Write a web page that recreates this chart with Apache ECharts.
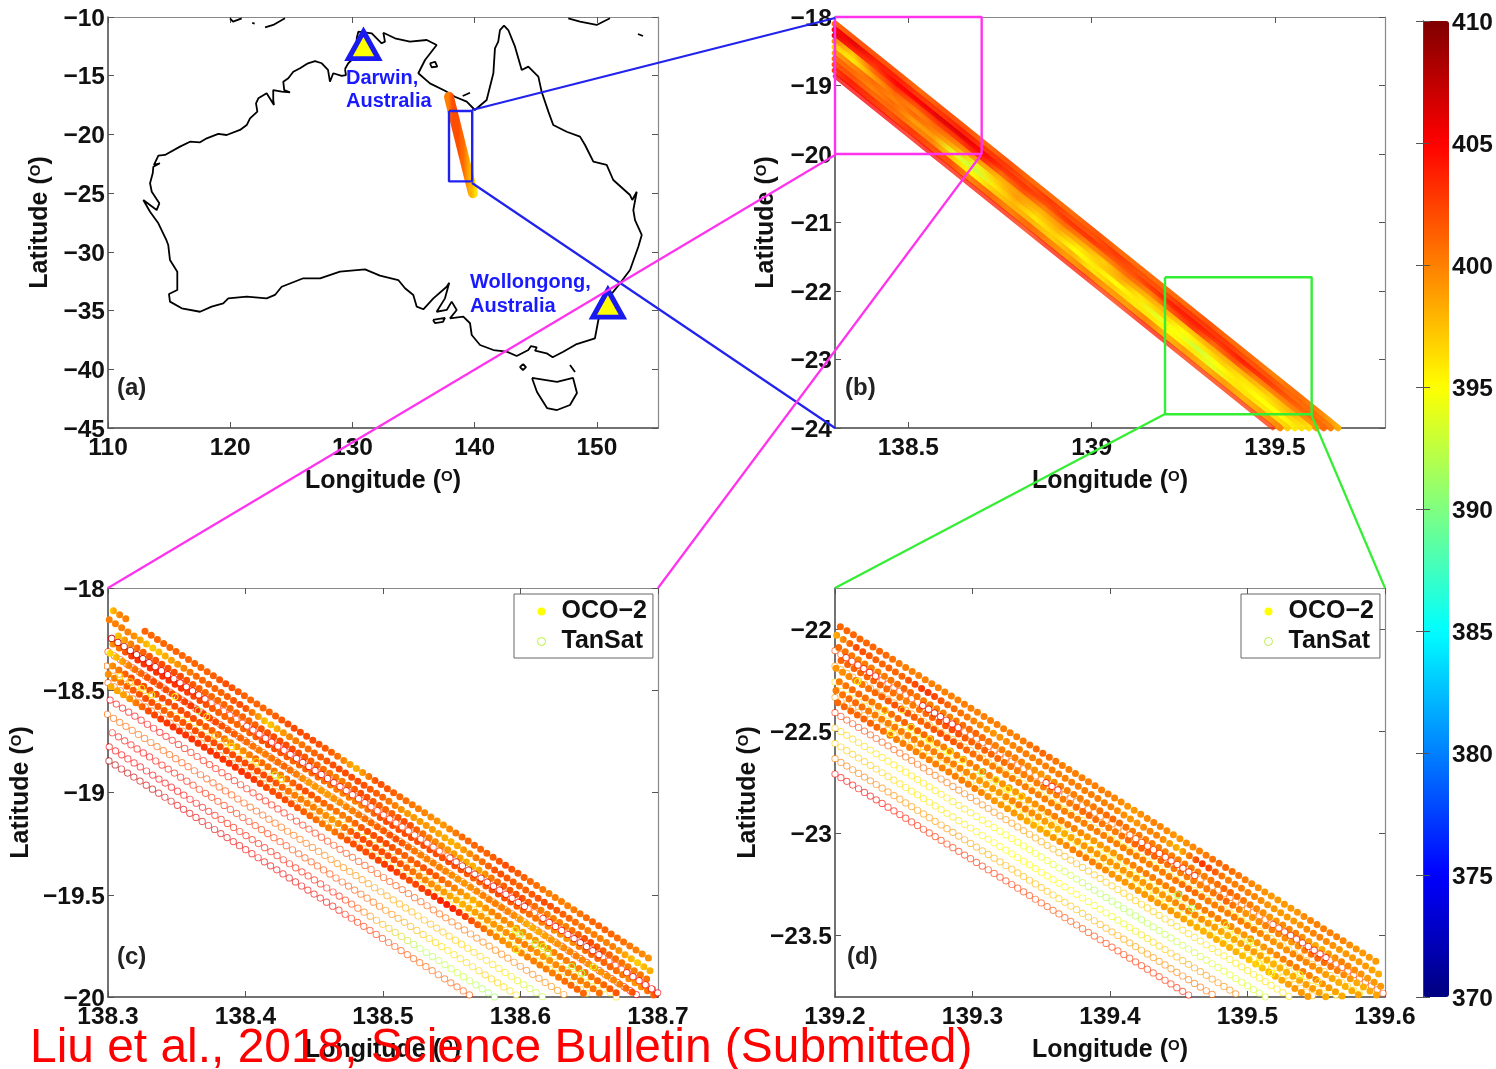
<!DOCTYPE html>
<html><head><meta charset="utf-8">
<style>html,body{margin:0;padding:0;background:#fff}#c{width:1496px;height:1069px}</style>
<script src="https://cdn.jsdelivr.net/npm/echarts@6/dist/echarts.min.js"></script></head>
<body><div id="c"></div>
<script>
const colorbarTicks=[370,375,380,385,390,395,400,405,410];
const jetColors=['#000080','#0000ff','#0080ff','#00ffff','#80ff80','#ffff00','#ff8000','#ff0000','#800000'];
// Coastline: [lon, lat]
const coastMain=[[129.39,-14.43],[129.47,-14.94],[129.12,-15.02],[128.43,-14.79],[128.16,-15.51],[128,-14.51],[127.49,-13.94],[126.94,-13.75],[126.36,-13.94],[125.71,-14.37],[125.16,-14.66],[124.75,-15.22],[124.34,-15.51],[124.42,-16.22],[124.89,-16.41],[124.21,-16.36],[123.52,-16.22],[123.52,-17.07],[123.58,-17.49],[122.98,-16.5],[122.3,-16.92],[122.11,-17.35],[122.22,-18.06],[121.62,-18.63],[121.35,-19.2],[120.8,-19.62],[119.71,-20.05],[119.02,-19.96],[118.08,-20.33],[117.53,-20.67],[116.71,-20.62],[115.89,-21.04],[114.66,-21.75],[114.12,-21.81],[113.76,-22.6],[114.25,-22.46],[113.71,-22.75],[113.66,-23.31],[113.44,-24.16],[113.58,-24.88],[114.2,-25.87],[113.98,-26.44],[112.89,-25.58],[113.44,-26.58],[114.12,-27.57],[114.75,-28.93],[114.93,-29.42],[115.07,-30.69],[115.67,-31.69],[115.67,-33.25],[114.99,-33.59],[115.07,-34.24],[116.03,-34.81],[117.53,-35.1],[118.48,-34.67],[119.43,-34.38],[119.84,-33.96],[121.35,-33.82],[122.98,-33.96],[123.66,-33.67],[124.21,-32.97],[125.98,-32.25],[127.35,-32.25],[128.98,-31.69],[131.03,-31.49],[132.25,-32.03],[133.75,-32.4],[134.3,-33.1],[134.98,-33.67],[135.26,-34.67],[135.8,-34.89],[136.62,-33.96],[137.71,-32.97],[137.92,-32.63],[137.57,-33.96],[136.89,-35.1],[137.71,-34.95],[138.12,-34.24],[138.53,-34.95],[137.98,-35.66],[139.07,-35.52],[139.62,-36.08],[139.76,-37.08],[140.44,-37.93],[141.53,-38.36],[142.62,-38.5],[143.44,-38.87],[144.39,-38.36],[144.61,-38.02],[145.08,-38.13],[144.94,-38.42],[145.89,-38.64],[146.38,-38.98],[147.25,-38.5],[148.35,-37.85],[149.84,-37.36],[150.12,-35.8],[150.8,-34.1],[151.89,-32.68],[152.71,-31.55],[153.39,-29.56],[153.67,-28.56],[153.12,-27.29],[152.98,-26.44],[153.26,-24.88],[152.9,-25.58],[152.71,-25.16],[151.34,-23.88],[150.8,-22.6],[149.71,-22.32],[149.03,-20.9],[148.62,-20.19],[147.53,-19.77],[146.43,-19.2],[146.03,-18.06],[145.48,-16.36],[145.21,-15.08],[144.39,-14.23],[143.85,-14.51],[143.3,-12.53],[142.75,-11.11],[142.4,-10.74],[142.07,-11.11],[141.93,-12.1],[141.66,-12.67],[141.53,-14.79],[140.98,-17.07],[140.02,-17.92],[139.35,-17.21],[138.38,-16.79],[137.57,-16.28],[136.34,-15.65],[135.39,-14.79],[135.94,-13.66],[136.89,-12.38],[136.08,-11.96],[134.7,-12.1],[133.48,-11.81],[132.53,-11.34],[132.66,-12.1],[132.39,-12.24],[131.58,-11.39],[130.48,-11.25],[130.35,-11.81],[130.35,-13.24],[129.66,-13.94],[129.39,-14.43]];
const coastTasmania=[[144.69,-40.74],[146.74,-41.08],[148.05,-40.74],[148.37,-42.02],[147.8,-43.04],[146.74,-43.47],[145.92,-43.3],[145.1,-41.93],[144.69,-40.74]];
const coastKangaroo=[[136.59,-35.8],[137.57,-35.63],[137.41,-35.97],[136.75,-36.06],[136.59,-35.8]];
const coastKing=[[143.95,-39.55],[144.2,-39.81],[143.95,-40.06],[143.71,-39.81],[143.95,-39.55]];
const coastFlinders=[[147.8,-39.64],[148.21,-40.23]];
const coastGroote=[[136.34,-13.94],[136.76,-13.81],[136.94,-14.23],[136.48,-14.28],[136.34,-13.94]];
const coastMornington=[[139.02,-16.73],[139.62,-16.45]];
const coastPNG=[[147.66,-10.11],[148.62,-10.4],[149.98,-10.68],[151.07,-10.11]];
const coastDash=[[153.36,-11.45],[153.77,-11.62]];
const coastTimorA=[[119.98,-10.11],[120.23,-10.4],[120.94,-10.11]];
const coastTimorB=[[121.8,-10.5],[122,-10.56]];
const coastTimorC=[[122.85,-10.88],[123.52,-10.68],[124.48,-10.11]];
const sites=[[130.9,-12.4],[150.9,-34.4]];
// Panel (a) swath
const swathAEnds=[137.9,-16.8,139.86,-25.0];
const swathAVal=[400,400,400,401,402,402,402,402,401,401,400,399,398,398,397,396,396];
const zoomBoxA=[[137.9,-18],[139.8,-18],[139.8,-24],[137.9,-24],[137.9,-18]];
// Panel (b): overlapping swath strips, upper edge to lower edge
const bandEnds=[[138.3,-18.1,139.672,-24],[138.3,-18.185,139.652,-24],[138.3,-18.27,139.633,-24],[138.3,-18.355,139.613,-24],[138.3,-18.44,139.593,-24],[138.3,-18.525,139.573,-24],[138.3,-18.61,139.554,-24],[138.3,-18.695,139.534,-24],[138.3,-18.78,139.514,-24],[138.3,-18.865,139.494,-24]];
const bandVal=[
[401,402,402,402,401,402,402,401,402,401,401,401,402,401,401,401,401,402,401,401,400,401,400,398],
[405,406,404,404,403,403,404,403,403,402,403,402,402,403,402,402,403,403,403,402,402,401,401,400],
[406,404,403,405,405,406,406,405,403,403,402,403,403,402,402,403,404,404,403,404,403,402,401,401],
[400,397,401,403,402,403,403,404,401,402,400,401,400,400,401,400,402,403,401,402,400,400,400,399],
[397,396,399,401,400,401,400,399,398,399,398,399,398,397,399,398,398,397,398,398,398,397,398,396],
[399,400,401,400,401,400,398,394,397,399,397,398,396,397,398,396,397,395,396,397,396,396,397,396],
[401,401,400,401,399,399,394,393,396,398,396,397,395,396,395,396,394,395,393,395,396,395,395,396],
[402,402,401,401,400,400,397,395,397,398,398,397,398,396,397,396,396,395,396,394,396,396,396,397],
[403,404,403,402,403,402,402,400,401,400,401,400,399,400,399,399,400,398,399,398,399,398,399,400],
[406,405,405,405,404,405,404,404,404,404,403,404,404,404,403,403,404,404,403,403,403,403,403,403]];
const boxC=[[138.3,-18],[138.7,-18],[138.7,-20],[138.3,-20],[138.3,-18]];
const boxD=[[139.2,-21.8],[139.6,-21.8],[139.6,-23.8],[139.2,-23.8],[139.2,-21.8]];
// Panel (c)
const ocoCEnds=[[138.3039,-18.1114,138.3136,-18.1537],[138.3269,-18.2118,138.6964,-19.8243],[138.3009,-18.1555,138.6985,-19.8907],[138.3075,-18.2347,138.6956,-19.9284],[138.3036,-18.2734,138.6978,-19.9937],[138.3015,-18.3195,138.6855,-19.9953],[138.3034,-18.3815,138.6724,-19.9917],[138.3002,-18.4214,138.6602,-19.9926],[138.3022,-18.4825,138.6486,-19.9942]];
const ocoCVal=[
[397,400,400],
[401,401,401,401,402,401,401,402,402,401,398,402,401,400,399,401,401,402,401,400,400,401,401,400,399],
[400,400,397,399,401,401,402,397,400,401,402,402,401,399,399,398,400,402,401,402,401,400,400,397,399],
[397,401,402,402,401,401,401,402,402,401,400,402,401,402,400,399,398,401,402,400,400,402,401,400,401],
[399,403,403,403,402,401,401,402,401,401,400,400,402,402,402,402,401,402,401,400,399,401,401,399,402],
[396,400,402,402,403,402,401,400,401,399,399,400,401,402,400,400,399,400,400,398,399,400,399,400,403],
[399,402,402,402,402,401,399,401,400,402,401,400,402,402,401,402,400,398,400,399,399,400,400,401,402],
[399,401,402,401,402,402,402,402,402,400,400,399,402,402,402,400,399,398,399,399,400,399,400,400,401],
[398,399,402,403,403,403,403,403,402,402,401,400,402,402,403,402,403,404,402,400,399,400,400,401,401]];
const tanCEnds=[[138.3027,-18.2465,138.7,-19.9803],[138.3,-18.3115,138.6869,-20],[138.299,-18.3819,138.6698,-20],[138.3,-18.4631,138.6522,-20],[138.3015,-18.5478,138.6343,-20],[138.2995,-18.6174,138.6163,-20],[138.3031,-18.7079,138.5992,-20],[138.3009,-18.7765,138.5813,-20],[138.3007,-18.8456,138.5652,-20]];
const tanCVal=[
[404,404,404,404,403,402,402,402,403,404,405],
[403,403,402,402,401,400,400,400,402,404,405],
[401,397,396,397,398,396,398,397,397,396,396],
[402,401,400,399,398,398,396,396,395,396,397],
[405,405,404,404,404,403,402,402,401,400,400,399],
[401,401,402,402,401,400,399,398,397,396,392],
[404,405,404,403,403,402,402,401,398,396,397,396],
[405,405,405,404,404,404,404,398,392,393,391],
[408,407,406,406,405,406,405,403,402,401,402]];
const tanCTopEnds=[[138.3027,-18.2465,138.3742,-18.5585],[138.4009,-18.675,138.5436,-19.2979],[138.5487,-19.32,138.6045,-19.5634],[138.6164,-19.6154,138.66,-19.8058],[138.6772,-19.8808,138.7,-19.9803]];
const tanCTopVal=[[408,408,407,406,405,404],[404,405,406,404,403,403],[405,407,406,406,405],[405,406,407,406],[404,405,405]];
const ringsC=[[138.3087,-18.4336,396],[138.316,-18.458,397],[138.3245,-18.4906,396],[138.3318,-18.5232,396],[138.3487,-18.5314,395],[138.3657,-18.6,392],[138.3718,-18.6292,395],[138.3778,-18.7237,398],[138.3863,-18.7514,397],[138.39,-18.7759,396],[138.4081,-18.8492,396],[138.4215,-18.9144,393],[138.4263,-18.934,396],[138.5996,-19.6968,392],[138.596,-19.6724,394],[138.6105,-19.7408,392],[138.6166,-19.754,393],[138.6202,-19.7864,392],[138.6372,-19.8518,392],[138.6445,-19.8841,392],[138.653,-19.8518,394],[138.5972,-19.7702,394]];
// Panel (d)
const ocoDEnds=[[139.2039,-21.989,139.5964,-23.6383],[139.2012,-22.0315,139.5983,-23.7001],[139.2027,-22.0915,139.6,-23.761],[139.2044,-22.1543,139.5969,-23.8036],[139.2007,-22.1926,139.5842,-23.8043],[139.2031,-22.2581,139.5716,-23.8067],[139.2007,-22.3017,139.5588,-23.8066],[139.202,-22.361,139.546,-23.8066]];
const ocoDVal=[
[401,401,401,400,400,400,400,400,400,401,400,400,400,399,400,399,400,401,400,399,399,400,400,399,399],
[398,402,401,401,403,401,400,399,400,400,400,400,400,399,400,398,403,400,400,399,399,400,399,399,398],
[401,400,400,401,400,400,401,400,400,399,400,400,401,400,400,400,400,401,400,399,400,398,400,399,399],
[401,401,401,400,401,402,401,401,400,400,400,401,400,401,401,400,400,401,399,400,399,401,400,398,399],
[399,400,401,402,401,402,401,400,400,400,400,400,400,400,400,400,401,400,400,400,399,400,399,398,399],
[400,401,400,401,401,400,400,400,399,399,400,400,399,399,400,400,400,400,400,399,399,400,400,399,398],
[400,401,400,400,400,400,400,399,399,400,399,398,399,399,399,399,399,400,399,398,399,398,398,399,398],
[401,401,401,400,400,400,400,400,399,399,398,399,400,400,399,399,399,399,398,398,398,397,398,399,399]];
const tanDEnds=[[139.2,-22.1066,139.6,-23.7874],[139.2,-22.1814,139.5852,-23.8],[139.2,-22.2597,139.5666,-23.8],[139.2,-22.3345,139.5488,-23.8],[139.2,-22.4098,139.5308,-23.8],[139.2,-22.4846,139.513,-23.8],[139.2,-22.5594,139.4952,-23.8],[139.2,-22.6347,139.4773,-23.8],[139.2,-22.7095,139.4595,-23.8]];
const tanDVal=[
[402,403,402,402,401,400,400,401,402,403,402],
[399,399,398,397,396,396,395,396,396,398,396],
[396,396,395,396,397,395,394,395,396,396,396],
[399,398,397,396,396,395,396,395,394,396,398],
[403,402,401,400,399,398,397,397,396,396,396],
[397,396,396,396,395,394,392,392,393,394,393],
[397,397,396,396,395,395,395,394,397,399,400],
[400,400,399,399,398,398,397,398,399,400,401],
[405,405,404,403,403,403,402,402,403,403,404]];
const tanDTopEnds=[[139.208,-22.1402,139.2298,-22.2318],[139.2638,-22.3747,139.2929,-22.497],[139.3535,-22.7516,139.3629,-22.7911],[139.4145,-23.0079,139.463,-23.2117],[139.5185,-23.4451,139.56,-23.6193]];
const tanDTopVal=[[404,404,405],[405,406,405,405],[405,405],[402,403,404,404],[403,404,405,405]];
const ringsD=[[139.2165,-22.258,395],[139.2359,-22.3966,396],[139.2492,-22.3966,396],[139.2553,-22.4813,394],[139.2407,-22.5107,395],[139.2686,-22.54,396],[139.2831,-22.6003,395],[139.2928,-22.6411,395],[139.3062,-22.6981,392],[139.3171,-22.7389,394],[139.3256,-22.7845,395],[139.3353,-22.8204,396],[139.4495,-23.3012,391],[139.4594,-23.3664,392],[139.4848,-23.448,393],[139.5018,-23.5294,393],[139.5079,-23.6355,396],[139.5176,-23.6843,395],[139.5382,-23.6924,394],[139.5515,-23.7249,396]];

const FONT='"Liberation Sans",Arial,sans-serif';
const jet=v=>echarts.color.lerp((v-370)/40,jetColors);
const grad=vals=>({type:'linear',x:0,y:0,x2:1,y2:0,colorStops:vals.map((v,i)=>({offset:i/(vals.length-1),color:jet(v)}))});
const minusFmt=v=>{const n=Number(v);return (n<0?'\u2212':'')+String(Math.round(Math.abs(n)*1000)/1000)};
const lblStyle={fontFamily:FONT,fontWeight:'bold',fontSize:24.5,color:'#111'};
const nameStyle={fontFamily:FONT,fontWeight:'bold',fontSize:25,color:'#111',
  rich:{s:{fontFamily:FONT,fontWeight:'bold',fontSize:15,color:'#111',padding:[0,0,10,0]}}};

const panels=[
 {grid:[108,17,550,411],x:[110,155],y:[-45,-10],xt:[110,120,130,140,150],yt:[-45,-40,-35,-30,-25,-20,-15,-10],yg:55},
 {grid:[835,17,550,411],x:[138.3,139.8],y:[-24,-18],xt:[138.5,139,139.5],yt:[-24,-23,-22,-21,-20,-19,-18],yg:56},
 {grid:[108,588,550,409],x:[138.3,138.7],y:[-20,-18],xt:[138.3,138.4,138.5,138.6,138.7],yt:[-20,-19.5,-19,-18.5,-18],yg:74},
 {grid:[835,588,550,409],x:[139.2,139.6],y:[-23.8,-21.8],xt:[139.2,139.3,139.4,139.5,139.6],yt:[-23.5,-23,-22.5,-22],yg:74}];
const grids=[],xAxes=[],yAxes=[];
panels.forEach(p=>{
  grids.push({left:p.grid[0],top:p.grid[1],width:p.grid[2],height:p.grid[3],containLabel:false});
  const gi=grids.length-1;
  const line={show:true,lineStyle:{color:'#444',width:1.5}},line2={show:true,lineStyle:{color:'#888',width:1.2}};
  xAxes.push({type:'value',gridIndex:gi,position:'bottom',min:p.x[0],max:p.x[1],splitLine:{show:false},axisLine:line,
    axisTick:{inside:true,length:6,lineStyle:{color:'#555'},customValues:p.xt},
    axisLabel:{...lblStyle,margin:8,hideOverlap:false,showMinLabel:true,showMaxLabel:true,customValues:p.xt,formatter:minusFmt},
    name:'Longitude ({s|O})',nameLocation:'middle',nameGap:41,nameTextStyle:nameStyle});
  xAxes.push({type:'value',gridIndex:gi,position:'top',min:p.x[0],max:p.x[1],splitLine:{show:false},axisLine:line2,
    axisTick:{inside:true,length:6,lineStyle:{color:'#555'},customValues:p.xt},axisLabel:{show:false}});
  yAxes.push({type:'value',gridIndex:gi,position:'left',min:p.y[0],max:p.y[1],splitLine:{show:false},axisLine:line,
    axisTick:{inside:true,length:6,lineStyle:{color:'#555'},customValues:p.yt},
    axisLabel:{...lblStyle,margin:3,verticalAlign:'top',lineHeight:4,hideOverlap:false,showMinLabel:true,showMaxLabel:true,customValues:p.yt,formatter:minusFmt},
    name:'Latitude ({s|O})',nameLocation:'middle',nameRotate:90,nameGap:p.yg,nameTextStyle:nameStyle});
  yAxes.push({type:'value',gridIndex:gi,position:'right',min:p.y[0],max:p.y[1],splitLine:{show:false},axisLine:line2,
    axisTick:{inside:true,length:6,lineStyle:{color:'#555'},customValues:p.yt},axisLabel:{show:false}});
});
// colour bar axes
grids.push({left:1423,top:21,width:26,height:976,containLabel:false});
xAxes.push({type:'value',gridIndex:4,show:false,min:0,max:1});
yAxes.push({type:'value',gridIndex:4,position:'right',min:370,max:410,interval:5,z:6,splitLine:{show:false},
  axisLine:{show:true,lineStyle:{color:'#444',width:1}},axisTick:{inside:true,length:7,lineStyle:{color:'#555'}},
  axisLabel:{...lblStyle,margin:3,verticalAlign:'top',lineHeight:4,showMinLabel:true,showMaxLabel:true,customValues:colorbarTicks}});
yAxes.push({type:'value',gridIndex:4,position:'left',min:370,max:410,interval:5,z:6,splitLine:{show:false},
  axisLine:{show:true,lineStyle:{color:'#444',width:1}},axisTick:{inside:true,length:7,lineStyle:{color:'#555'}},axisLabel:{show:false}});

const series=[];
const base=(gi,name)=>({type:'line',name,xAxisIndex:gi*2,yAxisIndex:gi*2,symbol:'none',silent:true,animation:false,clip:false,z:2});
const addDots=(gi,name,ends,vals,period,size,opacity)=>ends.forEach((e,i)=>{
  series.push({...base(gi,name),data:[[e[0],e[1]],[e[2],e[3]]],
    lineStyle:{width:size,cap:'round',type:[0,period],color:grad(vals[i]),opacity:opacity}});
});
const addRings=(gi,name,ends,vals,period)=>ends.forEach((e,i)=>{
  const d=[[e[0],e[1]],[e[2],e[3]]];
  series.push({...base(gi,name),data:d,lineStyle:{width:7.2,cap:'round',type:[0,period],color:grad(vals[i]),opacity:.65}});
  series.push({...base(gi,name),data:d,lineStyle:{width:5.3,cap:'round',type:[0,period],color:'#fff'}});
});
const addScatterRings=(gi,name,pts)=>series.push({type:'scatter',name,xAxisIndex:gi*2,yAxisIndex:gi*2,silent:true,animation:false,clip:false,z:3,
  symbol:'circle',symbolSize:6.5,data:pts.map(p=>({value:[p[0],p[1]],itemStyle:{color:'rgba(0,0,0,0)',borderColor:jet(p[2]),borderWidth:1,opacity:1}}))});
const addCoast=pts=>series.push({...base(0,'Coast'),data:pts,lineStyle:{color:'#000',width:1.8}});
[coastMain,coastTasmania,coastKangaroo,coastKing,coastFlinders,coastGroote,coastMornington,coastPNG,coastDash,coastTimorA,coastTimorB,coastTimorC].forEach(addCoast);
series.push({...base(0,'Swath'),data:[[swathAEnds[0],swathAEnds[1]],[swathAEnds[2],swathAEnds[3]]],
  lineStyle:{width:10,cap:'round',color:grad(swathAVal)},z:3});
series.push({...base(0,'Box'),data:zoomBoxA,lineStyle:{color:'#2222ee',width:2.4},z:4});
series.push({type:'scatter',name:'Sites',xAxisIndex:0,yAxisIndex:0,silent:true,animation:false,z:5,symbol:'triangle',symbolSize:[30,27],
  data:sites,itemStyle:{color:'#ffff00',borderColor:'#1a1aee',borderWidth:5,opacity:1}});
bandEnds.forEach((e,i)=>series.push({...base(1,'Band'),data:[[e[0],e[1]],[e[2],e[3]]],lineStyle:{width:i===9?4.5:6.5,cap:'round',color:grad(bandVal[i]),opacity:i===9?.75:.96}}));
series.push({...base(1,'BoxC'),data:boxC,lineStyle:{color:'#ff33ee',width:2.4},z:4});
series.push({...base(1,'BoxD'),data:boxD,lineStyle:{color:'#33ee33',width:2.4},z:4});
addRings(2,'TanSat',tanCEnds,tanCVal,7.41);
addDots(2,'OCO\u22122',ocoCEnds,ocoCVal,7.41,7.0,1);
addRings(2,'TanSat',tanCTopEnds,tanCTopVal,7.41);
addScatterRings(2,'TanSat',ringsC);
addRings(3,'TanSat',tanDEnds,tanDVal,6.95);
addDots(3,'OCO\u22122',ocoDEnds,ocoDVal,7.7,7.0,1);
addRings(3,'TanSat',tanDTopEnds,tanDTopVal,6.95);
addScatterRings(3,'TanSat',ringsD);

const legendAt=left=>({show:true,orient:'vertical',left,top:594,padding:[5,6,4,23],itemGap:5,itemWidth:8,itemHeight:8,selectedMode:false,
  backgroundColor:'#fff',borderColor:'#666',borderWidth:1,
  textStyle:{fontFamily:FONT,fontWeight:'bold',fontSize:25,color:'#111',padding:[0,0,0,11]},
  data:[{name:'OCO\u22122',icon:'circle',itemStyle:{color:'#ffff00',borderWidth:0},lineStyle:{width:0}},
        {name:'TanSat',icon:'circle',itemStyle:{color:'#fff',borderColor:'#b8f040',borderWidth:1},lineStyle:{width:0}}]});

const txt=(x,y,t,size,color,weight)=>({type:'text',left:x,top:y,z:50,silent:true,style:{text:t,fontFamily:FONT,fontSize:size,fontWeight:weight||'bold',fill:color}});
const seg=(x1,y1,x2,y2,c)=>({type:'line',z:40,silent:true,shape:{x1,y1,x2,y2},style:{stroke:c,lineWidth:2.2}});
const graphic=[
 seg(472,110,835,18,'#2222ee'),seg(472,183,835,428,'#2222ee'),
 seg(108,588,835,155,'#ff33ee'),seg(658,588,981,155,'#ff33ee'),
 seg(835,588,1165,414,'#33ee33'),seg(1385,588,1311,414,'#33ee33'),
 txt(117,376,'(a)',24,'#222'),txt(845,376,'(b)',24,'#222'),txt(117,945,'(c)',24,'#222'),txt(847,945,'(d)',24,'#222'),
 txt(346,68,'Darwin,',20,'#1a1aff'),txt(346,91,'Australia',20,'#1a1aff'),
 txt(470,272,'Wollongong,',20,'#1a1aff'),txt(470,296,'Australia',20,'#1a1aff'),
 txt(30,1025,'Liu et al., 2018, Science Bulletin (Submitted)',47.9,'#ff0000','normal')];

const chart=echarts.init(document.getElementById('c'),null,{renderer:'canvas'});
chart.setOption({animation:false,backgroundColor:'#fff',grid:grids,xAxis:xAxes,yAxis:yAxes,series,
  legend:[legendAt(514),legendAt(1241)],
  visualMap:{type:'continuous',min:370,max:410,seriesIndex:[],calculable:false,realtime:false,text:null,show:true,
    left:1423,top:21,itemWidth:26,itemHeight:976,padding:0,inRange:{color:jetColors},textStyle:{color:'transparent'}},
  graphic});
</script></body></html>
